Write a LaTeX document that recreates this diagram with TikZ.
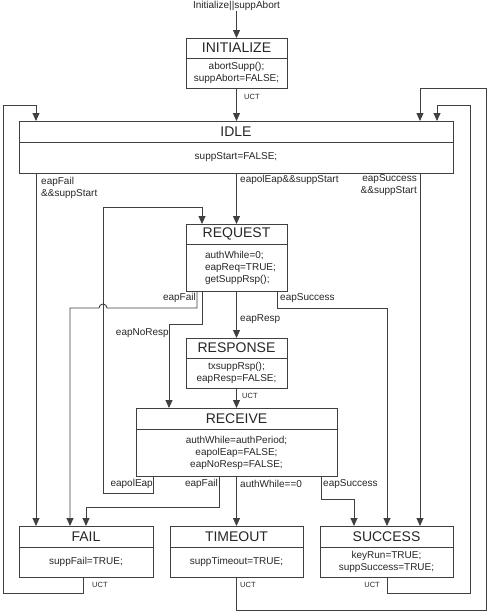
\documentclass[tikz,border=0pt]{standalone}
\usepackage{fontspec}
\setmainfont{Liberation Sans}
\usetikzlibrary{arrows.meta}
\newcommand\stbox[9][]{%
  \node[box, minimum width={(#4-#2)*1pt}, minimum height={(#6-#3)*1pt}] (#2n) at (#3,#4) {};}
\newcommand\statebox[9][]{% #1 body style, #2 name, #3 x1, #4 y1, #5 x2, #6 ydiv, #7 y2, #8 title, #9 body
  \node[box, minimum width={(#5-#3)*1pt}, minimum height={(#7-#4)*1pt}] (#2) at (#3,#4) {};
  \draw[ln] (#3,#6) -- (#5,#6);
  \node[ttl] (#2-t) at ({(#3+#5)/2},{(#4+#6)/2}) {#8};
  \node[bdy,#1] (#2-b) at ({(#3+#5)/2},{(#6+#7)/2}) {#9};
}
\begin{document}
\begin{tikzpicture}[x=1pt,y=-1pt,
  ln/.style={draw=black!75, line width=0.9pt},
  arr/.style={ln, -{Triangle[length=8pt,width=7pt]}},
  box/.style={draw=black!75, line width=0.9pt, inner sep=0pt, outer sep=0pt, anchor=north west},
  ttl/.style={font=\fontsize{14}{16}\selectfont, text=black!85, inner sep=0pt},
  bdy/.style={font=\fontsize{10}{12}\selectfont, text=black!85, align=center, inner sep=0pt},
  lbl/.style={font=\fontsize{10}{12}\selectfont, text=black!85, inner sep=0pt},
  uct/.style={font=\fontsize{7.5}{9}\selectfont, text=black!85, inner sep=0pt}]
\useasboundingbox (0,0) rectangle (491,616);

% states
\statebox{init}{186}{38}{287}{58}{88}{INITIALIZE}{abortSupp();\\suppAbort=FALSE;}
\statebox{idle}{19}{121}{453}{142}{173}{IDLE}{suppStart=FALSE;}
\statebox[align=left, xshift=4pt]{req}{186}{224}{287}{244}{291}{REQUEST}{authWhile=0;\\eapReq=TRUE;\\getSuppRsp();}
\statebox{resp}{186}{338}{287}{358}{388}{RESPONSE}{txsuppRsp();\\eapResp=FALSE;}
\statebox{recv}{136}{408}{337}{429}{476}{RECEIVE}{authWhile=authPeriod;\\eapolEap=FALSE;\\eapNoResp=FALSE;}
\statebox{fail}{19}{526}{153}{547}{577}{FAIL}{suppFail=TRUE;}
\statebox{tout}{170}{526}{303}{547}{577}{TIMEOUT}{suppTimeout=TRUE;}
\statebox{succ}{320}{526}{453}{547}{577}{SUCCESS}{keyRun=TRUE;\\suppSuccess=TRUE;}

% x positions of vertical connectors
\coordinate (x36) at (36,0);
\coordinate (x70) at (70,0);
\coordinate (x83) at (83,0);
\coordinate (x86) at (86,0);
\coordinate (x153) at (153,0);
\coordinate (x169) at (169,0);
\coordinate (x197) at (197,0);
\coordinate (x202) at (202,0);
\coordinate (x219) at (219,0);
\coordinate (xm) at (236.5,0);
\coordinate (x277) at (277,0);
\coordinate (x321) at (321,0);
\coordinate (x354) at (354,0);
\coordinate (x387) at (387,0);
\coordinate (x420) at (420,0);
\coordinate (x437) at (437,0);

% entry
\node[lbl] (start) at (236.5,6) {Initialize||suppAbort};
\draw[arr] (start.south -| xm) -- (init.north -| xm);

% connectors
\draw[arr] (init.south -| xm) -- (idle.north -| xm);
\node[uct, anchor=west] (l-uct1) at (244,97) {UCT};

\draw[arr] (idle.south -| x36) -- (fail.north -| x36);
\node[lbl, anchor=north west, align=left] (l-if) at (41,177) {eapFail\\\&\&suppStart};
\draw[arr] (idle.south -| xm) -- (req.north -| xm);
\node[lbl, anchor=west] (l-ie) at (240,180) {eapolEap\&\&suppStart};
\draw[arr] (idle.south -| x420) -- (succ.north -| x420);
\node[lbl, anchor=north east, align=right] (l-is) at (417,174) {eapSuccess\\\&\&suppStart};

\draw[arr] (fail.south -| x83) -- (83,593) -- (3,593) -- (3,105) -- (36,105) -- (idle.north -| x36);
\node[uct, anchor=west] (l-uct3) at (92,585) {UCT};
\draw[arr] (succ.south -| x387) -- (387,593) -- (470,593) -- (470,105) -- (437,105) -- (idle.north -| x437);
\node[uct, anchor=east] (l-uct5) at (380,585) {UCT};
\draw[arr] (tout.south -| xm) -- (236.5,610) -- (486,610) -- (486,88) -- (420,88) -- (idle.north -| x420);
\node[uct, anchor=west] (l-uct4) at (240,585) {UCT};

\draw[arr] (req.south -| x197) -- (197,308) -- (107,308)
  arc[start angle=0, end angle=180, radius=4pt] -- (70,308) -- (fail.north -| x70);
\node[lbl, anchor=east] (l-rf) at (196,298) {eapFail};
\draw[arr] (req.south -| x202) -- (202,324) -- (169,324) -- (recv.north -| x169);
\node[lbl, anchor=east] (l-rn) at (169,333) {eapNoResp};
\draw[arr] (req.south -| xm) -- (resp.north -| xm);
\node[lbl, anchor=west] (l-rr) at (240,319) {eapResp};
\draw[arr] (req.south -| x277) -- (277,308) -- (387,308) -- (succ.north -| x387);
\node[lbl, anchor=west] (l-rs) at (280,298) {eapSuccess};

\draw[arr] (resp.south -| xm) -- (recv.north -| xm);
\node[uct, anchor=west] (l-uct2) at (242,396) {UCT};

\draw[arr] (recv.south -| x153) -- (153,493) -- (103,493) -- (103,207) -- (202,207) -- (req.north -| x202);
\node[lbl, anchor=east] (l-ve) at (153,484) {eapolEap};
\draw[arr] (recv.south -| x219) -- (219,507) -- (86,507) -- (fail.north -| x86);
\node[lbl, anchor=east] (l-vf) at (218,484) {eapFail};
\draw[arr] (recv.south -| xm) -- (tout.north -| xm);
\node[lbl, anchor=west] (l-vt) at (240,484) {authWhile==0};
\draw[arr] (recv.south -| x321) -- (321,499) -- (354,499) -- (succ.north -| x354);
\node[lbl, anchor=west] (l-vs) at (323,484) {eapSuccess};
\end{tikzpicture}
\end{document}
